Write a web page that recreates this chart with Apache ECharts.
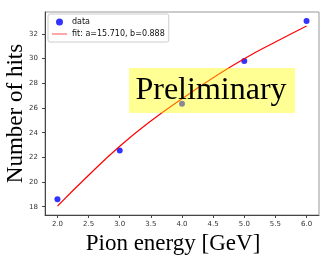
<!DOCTYPE html>
<html>
<head>
<meta charset="utf-8">
<script src="https://cdn.jsdelivr.net/npm/echarts@6/dist/echarts.min.js"></script>
<style>html,body{margin:0;padding:0;background:#fff}#c{width:332px;height:259px}</style>
</head>
<body>
<div id="c"></div>
<script>
const energies = [2, 3, 4, 5, 6];
const hits = [18.6, 22.55, 26.35, 29.8, 33.05];
const fitEnergies = [2.0, 2.5, 3.0, 3.5, 4.0, 4.5, 5.0, 5.5, 6.0];
const fitHits = [18.05, 20.55, 22.9, 24.95, 26.75, 28.45, 30.0, 31.35, 32.65];
const xTicks = [2.0, 2.5, 3.0, 3.5, 4.0, 4.5, 5.0, 5.5, 6.0];
const yTicks = [18, 20, 22, 24, 26, 28, 30, 32];
const dataName = 'data';
const fitName = 'fit: a=15.710, b=0.888';
const annotation = 'Preliminary';

const chart = echarts.init(document.getElementById('c'), null, {renderer: 'canvas'});
const serif = 'Liberation Serif, Times New Roman, serif';
const sans = 'DejaVu Sans, sans-serif';
chart.setOption({
  animation: false,
  grid: {left: 45, right: 13, top: 12, bottom: 44, show: true, borderColor: '#999', borderWidth: 1, backgroundColor: 'transparent', containLabel: false, outerBoundsMode: 'none'},
  xAxis: {
    type: 'value', min: 1.8, max: 6.2,
    name: 'Pion energy [GeV]', nameLocation: 'middle', nameGap: 13,
    nameTextStyle: {fontFamily: serif, fontSize: 23, color: '#000', padding: [0, 18, 0, 0]},
    axisLine: {show: true, onZero: false, lineStyle: {color: '#444', width: 1}},
    axisTick: {show: true, length: 3, inside: false, customValues: xTicks, lineStyle: {color: '#444'}},
    axisLabel: {customValues: xTicks, formatter: v => v.toFixed(1), fontFamily: sans, fontSize: 7, color: '#333', margin: 6},
    splitLine: {show: false}
  },
  yAxis: {
    type: 'value', min: 17.33, max: 33.78,
    name: 'Number of hits', nameLocation: 'middle', nameGap: 18, nameMoveOverlap: false,
    nameTextStyle: {fontFamily: serif, fontSize: 23, color: '#000'},
    axisLine: {show: true, onZero: false, lineStyle: {color: '#444', width: 1}},
    axisTick: {show: true, length: 3, inside: false, customValues: yTicks, lineStyle: {color: '#444'}},
    axisLabel: {customValues: yTicks, fontFamily: sans, fontSize: 7, color: '#333', margin: 7},
    splitLine: {show: false}
  },
  legend: {
    orient: 'vertical', left: 48, top: 14,
    data: [
      {name: dataName, icon: 'circle'},
      {name: fitName, icon: 'path://M0,0 M0,4.3 L30,4.3 L30,5.7 L0,5.7 Z M30,10'}
    ],
    itemWidth: 15, itemHeight: 7, itemGap: 4,
    padding: [4, 4, 4, 4],
    borderColor: '#ccc', borderWidth: 1, borderRadius: 2, backgroundColor: 'rgba(255,255,255,0.8)',
    textStyle: {fontFamily: sans, fontSize: 8, color: '#111'}
  },
  series: [
    {
      name: dataName, type: 'scatter', symbol: 'circle', symbolSize: 6,
      itemStyle: {color: '#0000ff'},
      data: energies.map((e, i) => [e, hits[i]]), z: 2
    },
    {
      name: fitName, type: 'line', smooth: true, symbol: 'none', showSymbol: false,
      lineStyle: {color: '#ff0000', width: 1.2},
      itemStyle: {color: '#ff0000'},
      data: fitEnergies.map((e, i) => [e, fitHits[i]]), z: 3
    }
  ],
  graphic: [
    {type: 'rect', shape: {x: 129, y: 68, width: 166, height: 45}, style: {fill: 'rgba(255,255,0,0.42)'}, z: 100},
    {type: 'text', x: 211, y: 91, style: {text: annotation, font: '32px ' + serif, fill: '#000', align: 'center', verticalAlign: 'middle'}, z: 101}
  ]
});
</script>
</body>
</html>
